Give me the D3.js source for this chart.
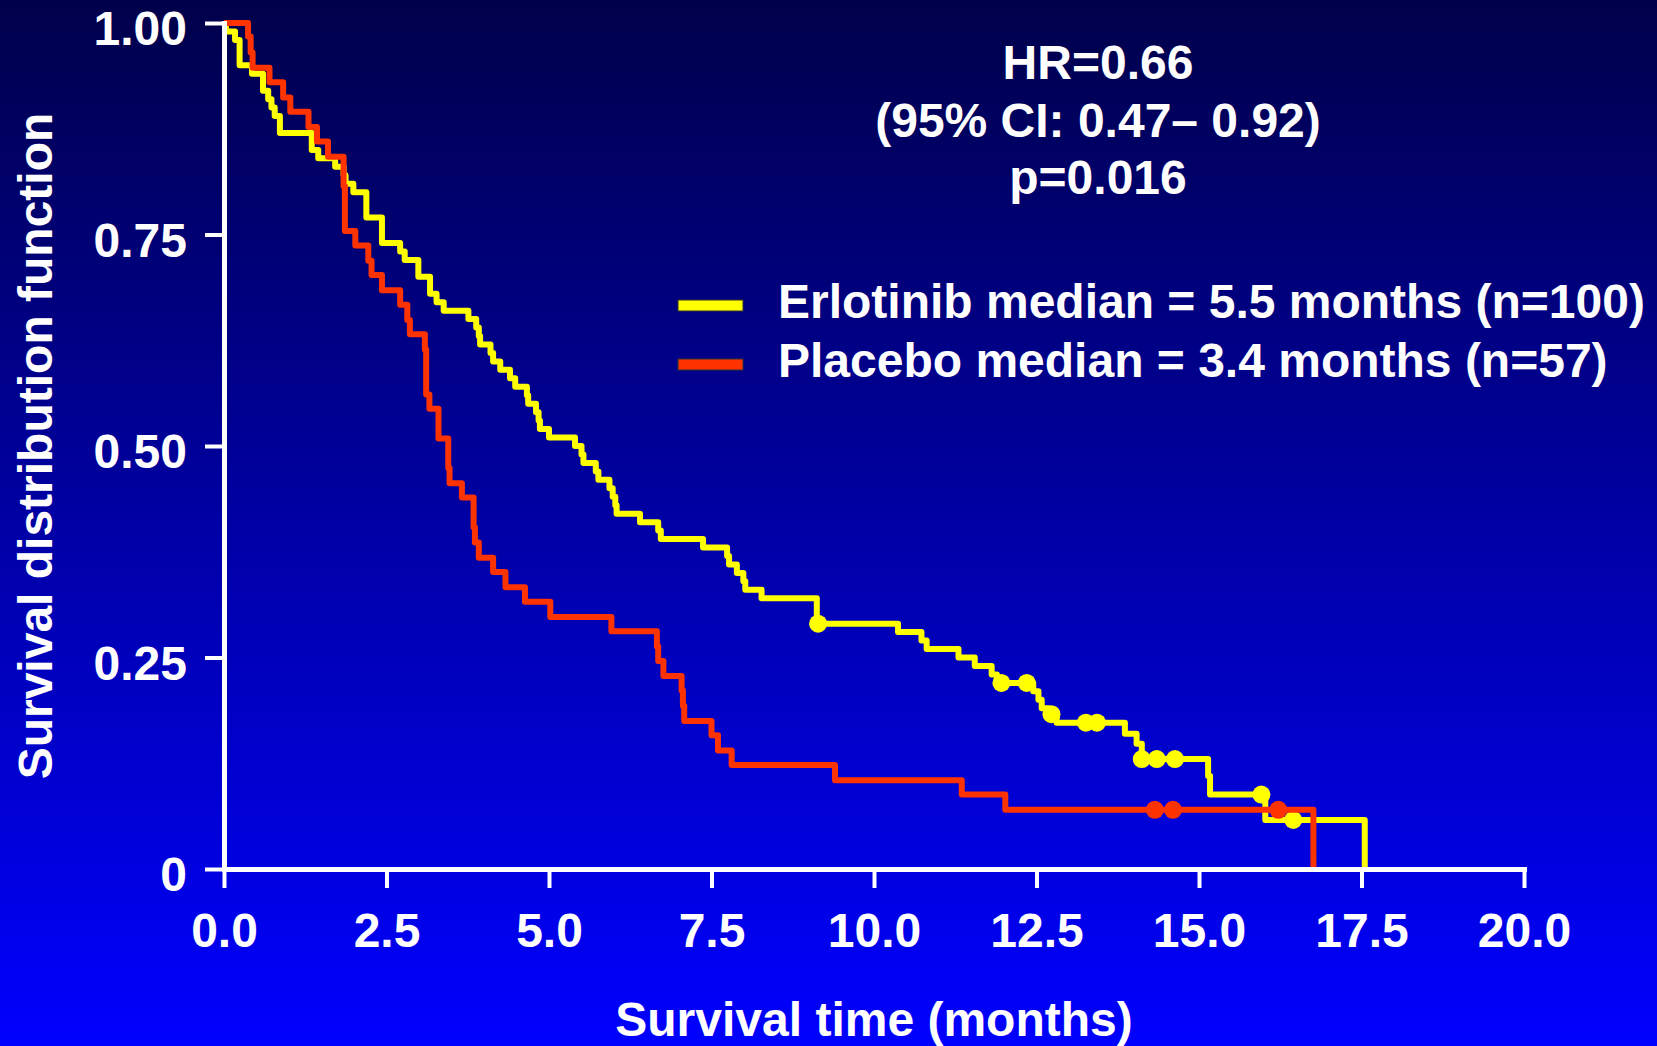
<!DOCTYPE html>
<html>
<head>
<meta charset="utf-8">
<script src="https://cdn.jsdelivr.net/npm/d3@7"></script>
<style>
body { margin: 0; background: #0000ff; }
svg { display: block; }
svg text { font-family: "Liberation Sans", Arial, sans-serif; font-weight: bold; fill: #ffffff; }
</style>
</head>
<body>
<svg></svg>
<script>
// Kaplan-Meier steps: time (months) where the curve drops, survival after the drop
var erlotinibTime = [0, 0.03, 0.17, 0.24, 0.43, 0.60, 0.68, 0.73, 0.78, 0.86, 1.35, 1.45, 1.71, 1.84, 1.87, 1.99,
    2.19, 2.43, 2.71, 2.78, 2.99, 3.17, 3.27, 3.38, 3.76, 3.88, 3.92, 3.94, 4.10, 4.14, 4.25, 4.40, 4.48, 4.66,
    4.68, 4.80, 4.84, 4.86, 5.00, 5.40, 5.50, 5.53, 5.72, 5.76, 5.93, 5.98, 6.02, 6.04, 6.40, 6.68, 6.72, 7.37,
    7.74, 7.77, 7.89, 7.99, 8.02, 8.27, 9.12, 10.37, 10.73, 10.81, 11.30, 11.55, 11.81, 11.89, 12.45, 12.53,
    12.58, 12.68, 12.81, 13.86, 14.04, 14.12, 15.14, 15.17, 16.02, 17.55];
var erlotinibSurv = [1.0, 0.99, 0.98, 0.95, 0.94, 0.92, 0.91, 0.90, 0.89, 0.87, 0.85, 0.84, 0.83, 0.82, 0.81, 0.80,
    0.77, 0.74, 0.73, 0.72, 0.70, 0.68, 0.67, 0.66, 0.65, 0.64, 0.63, 0.62, 0.61, 0.60, 0.59, 0.58, 0.57, 0.56,
    0.55, 0.54, 0.53, 0.52, 0.51, 0.50, 0.49, 0.48, 0.47, 0.46, 0.45, 0.44, 0.43, 0.42, 0.41, 0.40, 0.39, 0.38,
    0.37, 0.36, 0.35, 0.34, 0.33, 0.32, 0.29, 0.28, 0.27, 0.26, 0.25, 0.24, 0.23, 0.22, 0.21, 0.20,
    0.19, 0.183, 0.173, 0.16, 0.148, 0.13, 0.11, 0.088, 0.058, 0];
var erlotinibCensor = [9.14, 11.96, 12.35, 12.73, 13.26, 13.43, 14.12, 14.35, 14.63, 15.96, 16.45];

var placeboTime = [0, 0.37, 0.41, 0.44, 0.70, 0.91, 1.02, 1.30, 1.43, 1.60, 1.84, 1.86, 2.02, 2.22, 2.27, 2.43,
    2.71, 2.82, 2.86, 3.09, 3.11, 3.16, 3.30, 3.45, 3.47, 3.66, 3.84, 3.86, 3.92, 4.14, 4.33, 4.63, 5.02, 5.96,
    6.66, 6.68, 6.76, 7.04, 7.06, 7.08, 7.50, 7.60, 7.81, 9.40, 11.35, 12.02, 16.76];
var placeboSurv = [1.0, 0.984, 0.965, 0.947, 0.930, 0.912, 0.895, 0.877, 0.860, 0.842, 0.807, 0.754, 0.737, 0.719,
    0.702, 0.684, 0.667, 0.649, 0.632, 0.614, 0.561, 0.544, 0.509, 0.474, 0.456, 0.439, 0.404, 0.386, 0.368,
    0.351, 0.333, 0.316, 0.298, 0.281, 0.263, 0.246, 0.228, 0.211, 0.193, 0.175, 0.158, 0.140, 0.123, 0.105,
    0.088, 0.070, 0];
var placeboCensor = [14.32, 14.60, 16.22];

var xTicks = [0, 2.5, 5, 7.5, 10, 12.5, 15, 17.5, 20];
var xTickLabels = ["0.0", "2.5", "5.0", "7.5", "10.0", "12.5", "15.0", "17.5", "20.0"];
var yTicks = [0, 0.25, 0.5, 0.75, 1];
var yTickLabels = ["0", "0.25", "0.50", "0.75", "1.00"];

var statLines = ["HR=0.66", "(95% CI: 0.47\u2013 0.92)", "p=0.016"];
var legendLabels = ["Erlotinib median = 5.5 months (n=100)", "Placebo median = 3.4 months (n=57)"];
var legendColours = ["#ffff00", "#ff3300"];

var width = 1657;
var height = 1046;
var fontSize = "48px";
var svg, x, y;

function main() {
    init();
    drawCurve(erlotinibTime, erlotinibSurv, erlotinibCensor, legendColours[0]);
    drawCurve(placeboTime, placeboSurv, placeboCensor, legendColours[1]);
    drawAxes();
    drawText();
}

function init() {
    svg = d3.select("svg")
        .attr("width", width)
        .attr("height", height);

    var grad = svg.append("defs").append("linearGradient")
        .attr("id", "bg")
        .attr("x1", 0).attr("y1", 0)
        .attr("x2", 0).attr("y2", 1);
    grad.append("stop").attr("offset", "0%").attr("stop-color", "#00004a");
    grad.append("stop").attr("offset", "100%").attr("stop-color", "#0000ff");

    svg.append("rect")
        .attr("width", width)
        .attr("height", height)
        .attr("fill", "url(#bg)");

    x = d3.scaleLinear().domain([0, 20]).range([224, 1524]);
    y = d3.scaleLinear().domain([0, 1]).range([869, 23]);
}

// value of a step curve at time t
function survivalAt(times, surv, t) {
    var i = d3.bisectRight(times, t) - 1;
    return surv[Math.max(i, 0)];
}

function drawCurve(times, surv, censor, colour) {
    var pts = times.map((t, i) => [t, surv[i]]);

    var line = d3.line()
        .x((d) => x(d[0]))
        .y((d) => y(d[1]))
        .curve(d3.curveStepAfter);

    svg.append("path")
        .attr("d", line(pts))
        .attr("fill", "none")
        .attr("stroke", colour)
        .attr("stroke-width", 6)
        .attr("stroke-linejoin", "round");

    svg.append("g").selectAll("circle")
        .data(censor)
        .enter().append("circle")
        .attr("cx", (t) => x(t))
        .attr("cy", (t) => y(survivalAt(times, surv, t)))
        .attr("r", 9)
        .attr("fill", colour);
}

function drawAxes() {
    var yAxis = d3.axisLeft(y)
        .tickValues(yTicks)
        .tickFormat((d, i) => yTickLabels[i])
        .tickSize(19)
        .tickSizeOuter(0)
        .tickPadding(18);

    var xAxis = d3.axisBottom(x)
        .tickValues(xTicks)
        .tickFormat((d, i) => xTickLabels[i])
        .tickSize(19)
        .tickSizeOuter(0);

    var gy = svg.append("g").attr("transform", "translate(224,0)").call(yAxis);
    gy.selectAll("text").attr("dy", "0.45em");

    var gx = svg.append("g").attr("transform", "translate(0,869)").call(xAxis);
    gx.selectAll("text").attr("y", 78).attr("dy", 0);

    [gx, gy].forEach(function (g) {
        g.attr("font-size", null).attr("font-family", null);
        g.selectAll("text").style("font-size", fontSize).attr("fill", "#ffffff");
        g.select(".domain").attr("stroke", "#ffffff").attr("stroke-width", 5).attr("stroke-linecap", "square");
        g.selectAll(".tick line").attr("stroke", "#ffffff").attr("stroke-width", 4);
    });
}

function drawText() {
    svg.append("g").selectAll("text")
        .data(statLines)
        .enter().append("text")
        .attr("x", 1098)
        .attr("y", (d, i) => 79 + i * 57.5)
        .attr("text-anchor", "middle")
        .style("font-size", fontSize)
        .text((d) => d);

    var leg = svg.append("g").selectAll("g")
        .data(legendLabels)
        .enter().append("g")
        .attr("transform", (d, i) => "translate(0," + (i * 59) + ")");

    leg.append("rect")
        .attr("x", 678)
        .attr("y", 300)
        .attr("width", 65)
        .attr("height", 11)
        .attr("fill", (d, i) => legendColours[i])
        .attr("stroke", "#333333")
        .attr("stroke-width", 1);

    leg.append("text")
        .attr("x", 778)
        .attr("y", 318)
        .style("font-size", fontSize)
        .text((d) => d);

    svg.append("text")
        .attr("transform", "translate(52,446) rotate(-90)")
        .attr("text-anchor", "middle")
        .style("font-size", fontSize)
        .text("Survival distribution function");

    svg.append("text")
        .attr("x", 874)
        .attr("y", 1036)
        .attr("text-anchor", "middle")
        .style("font-size", fontSize)
        .text("Survival time (months)");
}

main();
</script>
</body>
</html>
